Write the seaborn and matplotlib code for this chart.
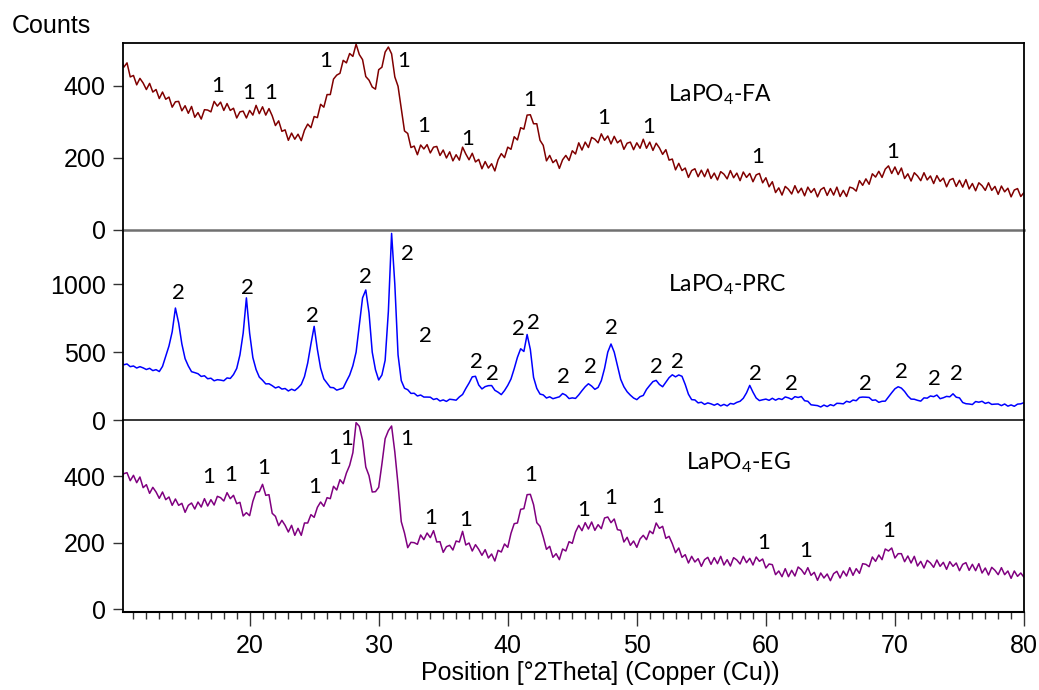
import numpy as np
import pandas as pd
import matplotlib
matplotlib.use("Agg")
import matplotlib.pyplot as plt
import seaborn as sns
from matplotlib.ticker import MultipleLocator, FixedLocator

# ---------------- data ----------------
two_theta = np.arange(10.0, 80.001, 0.25)

counts_fa = [
    480, 452, 464, 425, 429, 403, 421, 408,
    390, 407, 383, 390, 365, 383, 363, 369,
    341, 356, 357, 331, 345, 324, 343, 313,
    326, 308, 334, 333, 328, 357, 344, 355,
    332, 351, 332, 338, 311, 328, 330, 311,
    332, 319, 346, 323, 342, 319, 337, 317,
    290, 303, 274, 278, 249, 269, 252, 266,
    248, 277, 294, 284, 315, 312, 349, 341,
    376, 376, 419, 430, 435, 471, 464, 490,
    482, 516, 487, 473, 426, 416, 397, 391,
    445, 452, 494, 508, 489, 425, 399, 337,
    275, 268, 229, 233, 209, 236, 225, 237,
    214, 230, 232, 207, 222, 200, 217, 192,
    209, 194, 230, 211, 195, 213, 189, 196,
    170, 190, 172, 184, 164, 195, 212, 201,
    230, 224, 259, 250, 284, 280, 319, 320,
    295, 295, 249, 235, 192, 207, 187, 195,
    171, 195, 207, 193, 220, 211, 242, 222,
    244, 229, 257, 252, 242, 267, 249, 261,
    239, 260, 242, 250, 224, 241, 244, 223,
    242, 227, 252, 227, 244, 221, 241, 228,
    210, 223, 194, 197, 167, 185, 165, 172,
    146, 165, 170, 148, 166, 148, 169, 143,
    158, 139, 162, 155, 142, 165, 145, 158,
    137, 161, 146, 157, 134, 153, 157, 131,
    145, 120, 134, 104, 117, 97, 121, 113,
    100, 123, 103, 116, 95, 119, 104, 115,
    92, 112, 118, 96, 115, 97, 119, 93,
    110, 93, 119, 116, 108, 137, 124, 142,
    127, 156, 147, 163, 146, 169, 178, 157,
    175, 154, 172, 143, 156, 136, 159, 150,
    137, 159, 139, 150, 129, 151, 135, 144,
    120, 139, 143, 121, 138, 119, 140, 114,
    129, 109, 131, 123, 110, 131, 110, 121,
    99, 122, 106, 116, 92, 111, 115, 93,
    104,
]

counts_prc = [
    426, 407, 413, 393, 398, 383, 393, 384,
    372, 381, 364, 371, 357, 395, 470, 545,
    650, 825, 715, 560, 452, 398, 356, 349,
    341, 321, 326, 304, 308, 289, 297, 294,
    289, 310, 306, 335, 380, 480, 640, 900,
    640, 460, 372, 316, 293, 266, 267, 253,
    236, 245, 228, 232, 214, 227, 217, 237,
    262, 320, 420, 560, 690, 520, 382, 303,
    271, 240, 238, 220, 228, 236, 285, 331,
    400, 500, 700, 900, 958, 790, 500, 370,
    295, 332, 440, 800, 1375, 1000, 480, 290,
    234, 223, 196, 197, 177, 184, 169, 169,
    168, 151, 158, 140, 148, 137, 153, 150,
    146, 170, 188, 232, 272, 318, 322, 258,
    229, 246, 253, 254, 219, 205, 187, 217,
    255, 302, 378, 462, 525, 505, 630, 520,
    314, 233, 191, 185, 162, 171, 157, 164,
    171, 195, 183, 158, 163, 159, 185, 216,
    245, 267, 250, 226, 240, 290, 380, 500,
    560, 500, 400, 300, 245, 208, 183, 162,
    150, 172, 181, 225, 255, 283, 292, 262,
    245, 278, 312, 333, 318, 332, 322, 262,
    190, 150, 148, 126, 131, 115, 126, 119,
    109, 120, 104, 115, 104, 122, 117, 130,
    138, 160, 200, 255, 205, 162, 143, 149,
    154, 145, 160, 146, 158, 151, 170, 163,
    152, 172, 166, 173, 142, 138, 112, 109,
    106, 96, 110, 99, 113, 105, 123, 122,
    119, 138, 131, 147, 142, 166, 169, 168,
    166, 145, 148, 130, 138, 139, 170, 201,
    230, 245, 235, 210, 177, 154, 153, 145,
    139, 163, 161, 177, 172, 184, 157, 164,
    174, 171, 193, 168, 163, 129, 120, 118,
    114, 136, 131, 138, 122, 130, 115, 117,
    118, 106, 118, 102, 111, 101, 117, 119,
    128,
]

counts_eg = [
    391, 407, 410, 386, 402, 380, 397, 365,
    374, 348, 366, 352, 333, 352, 329, 337,
    312, 331, 312, 318, 291, 312, 319, 301,
    322, 307, 332, 310, 329, 313, 339, 335,
    325, 350, 332, 342, 317, 321, 280, 290,
    281, 324, 352, 353, 375, 342, 344, 288,
    279, 251, 267, 252, 232, 252, 222, 243,
    222, 259, 259, 284, 276, 306, 322, 309,
    335, 332, 369, 358, 389, 377, 409, 432,
    470, 560, 549, 507, 427, 401, 352, 353,
    366, 436, 512, 536, 550, 472, 374, 263,
    229, 185, 201, 200, 195, 223, 209, 229,
    215, 236, 202, 203, 171, 188, 192, 178,
    205, 202, 234, 193, 199, 175, 194, 180,
    162, 179, 154, 166, 145, 177, 172, 196,
    186, 228, 257, 259, 300, 302, 344, 345,
    314, 260, 249, 217, 180, 189, 156, 167,
    149, 181, 175, 203, 198, 232, 252, 236,
    260, 241, 262, 237, 254, 242, 274, 277,
    260, 271, 239, 237, 202, 216, 192, 205,
    186, 211, 222, 209, 235, 227, 259, 243,
    249, 213, 219, 197, 170, 184, 156, 164,
    139, 159, 142, 152, 129, 149, 156, 135,
    155, 137, 159, 133, 149, 130, 155, 148,
    136, 159, 140, 153, 133, 157, 144, 151,
    124, 136, 134, 104, 115, 98, 122, 98,
    117, 100, 127, 119, 105, 125, 102, 111,
    87, 109, 94, 106, 86, 107, 114, 94,
    115, 100, 125, 102, 122, 108, 137, 135,
    128, 157, 144, 163, 149, 181, 175, 184,
    154, 167, 167, 143, 160, 139, 159, 130,
    144, 124, 147, 139, 126, 148, 129, 141,
    120, 143, 129, 139, 116, 135, 140, 117,
    135, 116, 137, 109, 124, 103, 126, 117,
    104, 125, 104, 115, 93, 115, 99, 109,
    96,
]

# peak markers (phase labels)
fa_mark_x = [17.5, 19.9, 21.65, 25.9, 31.9, 33.5, 36.9, 41.7, 47.4, 50.95, 59.4, 69.85]
fa_mark_y = [401, 379, 379, 470, 470, 288, 252, 362, 312, 285, 202, 216]
fa_mark_txt = ["1"] * len(fa_mark_x)

prc_mark_x = [14.45, 19.8, 24.9, 28.95, 32.2, 33.6, 37.55, 38.85, 40.8, 42.0, 44.3,
              46.4, 48.0, 51.55, 53.15, 59.2, 62.0, 67.7, 70.5, 73.05, 74.75]
prc_mark_y = [933, 969, 763, 1054, 1224, 618, 424, 340, 667, 715, 315,
              388, 679, 388, 424, 340, 267, 267, 351, 303, 340]
prc_mark_txt = ["2"] * len(prc_mark_x)

eg_mark_x = [16.8, 18.5, 21.05, 25.05, 26.55, 27.5, 32.2, 34.0, 36.7, 41.75, 45.9,
             47.95, 51.6, 59.8, 63.05, 69.5]
eg_mark_y = [398, 403, 423, 368, 453, 512, 512, 274, 269, 403, 299,
             333, 308, 199, 174, 234]
eg_mark_txt = ["1"] * len(eg_mark_x)

sample_names = [r"LaPO$_\mathregular{4}$-FA", r"LaPO$_\mathregular{4}$-PRC",
                r"LaPO$_\mathregular{4}$-EG"]
name_x = [52.4, 52.4, 53.8]
name_y = [375, 1000, 440]

y_ticks = [[0, 200, 400], [0, 500, 1000], [0, 200, 400]]
x_ticks = [20, 30, 40, 50, 60, 70, 80]

# ---------------- style ----------------
sns.set_theme(style="white")
plt.rcParams["font.family"] = ["Liberation Sans", "DejaVu Sans"]
plt.rcParams["text.color"] = "black"
plt.rcParams["axes.labelcolor"] = "black"
plt.rcParams["xtick.color"] = "black"
plt.rcParams["ytick.color"] = "black"

W, H = 1039, 690
fig = plt.figure(figsize=(W / 100, H / 100), dpi=100)

left = 122.5 / W
width = (1024 - 122.5) / W
panels = [(42.7, 230.0), (230.0, 420.0), (420.0, 612.0)]
ylims = [(0, 520), (0, 1400), (-8, 568)]
colors = ["#800000", "#0000ff", "#800080"]
series = [counts_fa, counts_prc, counts_eg]
marks = [(fa_mark_x, fa_mark_y, fa_mark_txt),
         (prc_mark_x, prc_mark_y, prc_mark_txt),
         (eg_mark_x, eg_mark_y, eg_mark_txt)]

label_font = ["Lato", "DejaVu Sans"]
axes = []
for i, (top_px, bot_px) in enumerate(panels):
    ax = fig.add_axes([left, 1 - bot_px / H, width, (bot_px - top_px) / H])
    ax.set_facecolor("none")
    axes.append(ax)
    df = pd.DataFrame({"x": two_theta, "y": series[i]})
    sns.lineplot(data=df, x="x", y="y", ax=ax, color=colors[i], linewidth=1.1,
                 estimator=None, sort=False)
    ax.set_xlim(10.15, 80)
    ax.set_ylim(*ylims[i])
    ax.set_yticks(y_ticks[i])
    ax.set_yticklabels([str(v) for v in y_ticks[i]])
    ax.set_xlabel("")
    ax.set_ylabel("")
    ax.tick_params(axis="y", which="major", direction="out", length=7.5, width=1.0,
                   color="#333333", labelcolor="black", labelsize=18, pad=4.5,
                   left=True)
    for s in ["left", "right", "top", "bottom"]:
        ax.spines[s].set_color("black")
        ax.spines[s].set_linewidth(1.3)
    mx, my, mt = marks[i]
    for xx, yy, tt in zip(mx, my, mt):
        ax.text(xx, yy, tt, ha="center", va="center", fontsize=16,
                family=label_font, color="black")
    ax.text(name_x[i], name_y[i], sample_names[i], ha="left", va="center",
            fontsize=16.5, family=label_font, color="black")

# panel borders
axes[0].spines["bottom"].set_color("#707070")
axes[0].spines["bottom"].set_linewidth(1.8)
axes[1].spines["top"].set_visible(False)
axes[1].spines["bottom"].set_linewidth(1.1)
axes[2].spines["top"].set_visible(False)
axes[2].spines["bottom"].set_linewidth(1.5)

for ax in axes[:2]:
    ax.tick_params(axis="x", which="both", bottom=False, labelbottom=False)
# gray zero tick for top panel
axes[0].get_yticklines()[0].set_color("#707070")

axb = axes[2]
axb.xaxis.set_major_locator(FixedLocator(x_ticks))
axb.xaxis.set_minor_locator(MultipleLocator(1))
axb.tick_params(axis="x", which="major", direction="out", length=10, width=1.0,
                color="#333333", labelcolor="black", labelsize=18, pad=6,
                bottom=True)
axb.tick_params(axis="x", which="minor", direction="out", length=5, width=1.0,
                color="#333333", bottom=True)

fig.text(12 / W, 1 - 33 / H, "Counts", fontsize=18, ha="left", va="baseline",
         color="black")
fig.text(600 / W, 1 - 680 / H, "Position [°2Theta] (Copper (Cu))", fontsize=18,
         ha="center", va="baseline", color="black")

fig.savefig("out.png", dpi=100)
